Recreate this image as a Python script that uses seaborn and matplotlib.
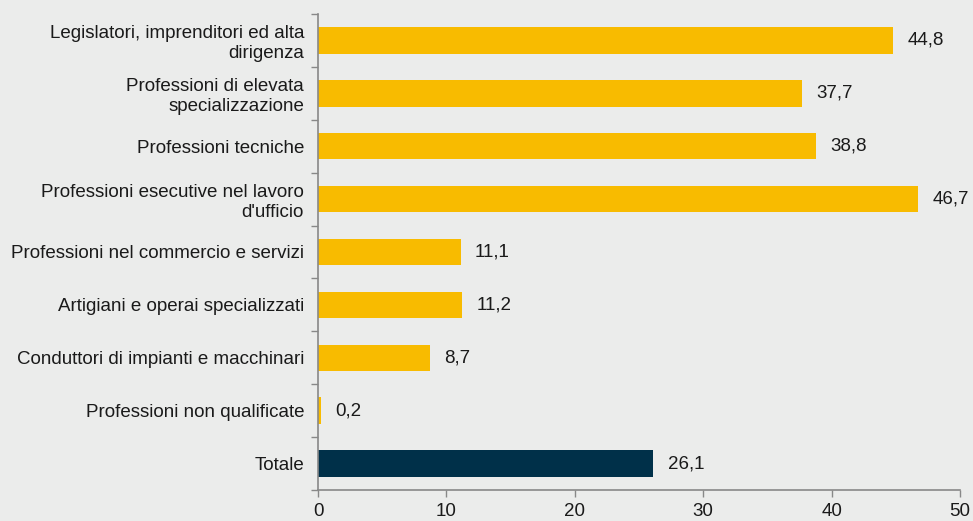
import matplotlib
matplotlib.use("Agg")
import matplotlib.pyplot as plt
import seaborn as sns
import numpy as np
import pandas as pd

categories = [
    "Legislatori, imprenditori ed alta\ndirigenza",
    "Professioni di elevata\nspecializzazione",
    "Professioni tecniche",
    "Professioni esecutive nel lavoro\nd'ufficio",
    "Professioni nel commercio e servizi",
    "Artigiani e operai specializzati",
    "Conduttori di impianti e macchinari",
    "Professioni non qualificate",
    "Totale",
]
values = [44.8, 37.7, 38.8, 46.7, 11.1, 11.2, 8.7, 0.2, 26.1]
value_labels = ["44,8", "37,7", "38,8", "46,7", "11,1", "11,2", "8,7", "0,2", "26,1"]
xticks = [0, 10, 20, 30, 40, 50]

BG = "#EBECEB"
YELLOW = "#F8BB00"
NAVY = "#003049"
TXT = "#1A1A1A"
colors = [YELLOW] * 8 + [NAVY]
FS = 13.5

sns.set_theme(style="white")
plt.rcParams["font.family"] = ["Liberation Sans", "DejaVu Sans"]

df = pd.DataFrame({"cat": categories, "val": values})

fig = plt.figure(figsize=(9.73, 5.21), dpi=100, facecolor=BG)
ax = fig.add_axes([318 / 973, 1 - 490 / 521, (960 - 318) / 973, (490 - 14) / 521])
ax.set_facecolor(BG)

sns.barplot(data=df, x="val", y="cat", hue="cat", palette=colors, legend=False,
            width=0.5, ax=ax, saturation=1, linewidth=0, edgecolor="none")

ax.set_xlim(0, 50)
ax.set_ylim(8.5, -0.5)
ax.set_xticks(xticks)
ax.set_xticklabels([str(t) for t in xticks], fontsize=FS, color=TXT)
ax.set_yticks(range(len(categories)))
ax.set_yticklabels(categories, fontsize=FS, color=TXT, linespacing=1.2)
ax.set_yticks(np.arange(-0.5, len(categories), 1.0), minor=True)
ax.tick_params(axis="y", which="major", length=0, pad=10)
ax.tick_params(axis="y", which="minor", length=5, width=1, color="#888888", direction="out", left=True)
ax.tick_params(axis="x", which="major", length=5, width=1, color="#888888", direction="out", bottom=True, pad=4)
ax.set_xlabel("")
ax.set_ylabel("")

for s in ["top", "right"]:
    ax.spines[s].set_visible(False)
for s in ["left", "bottom"]:
    ax.spines[s].set_color("#888888")
    ax.spines[s].set_linewidth(1.2)

for i, (v, lab) in enumerate(zip(values, value_labels)):
    ax.annotate(lab, xy=(v, i), xytext=(10.5, 0), textcoords="offset points",
                va="center", ha="left", fontsize=FS, color=TXT)

fig.savefig("out.png", dpi=100, facecolor=BG)
